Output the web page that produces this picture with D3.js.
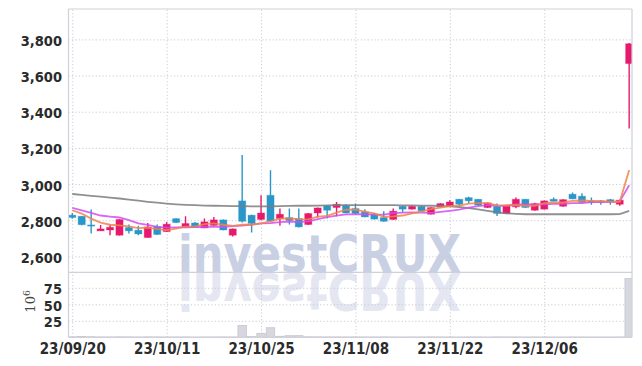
<!DOCTYPE html>
<html>
<head>
<meta charset="utf-8">
<script src="https://cdn.jsdelivr.net/npm/d3@7"></script>
<style>
    body { margin: 0; background: #ffffff; }
    #chart { width: 642px; height: 366px; }
    .tick text { font-family: "Liberation Sans Narrow", "DejaVu Sans Condensed", sans-serif; font-weight: bold; fill: #2b2b2b; }
    .grid line { stroke: #c9cad8; stroke-dasharray: 1.2 2.2; }
    .grid path { display: none; }
</style>
</head>
<body>
<div id="chart"></div>
<script>
// Trading days (YY/MM/DD)
const dates = [
    "23/09/20", "23/09/21", "23/09/22", "23/09/25", "23/09/26", "23/09/27",
    "23/10/04", "23/10/05", "23/10/06", "23/10/10", "23/10/11", "23/10/12",
    "23/10/13", "23/10/16", "23/10/17", "23/10/18", "23/10/19", "23/10/20",
    "23/10/23", "23/10/24", "23/10/25", "23/10/26", "23/10/27", "23/10/30",
    "23/10/31", "23/11/01", "23/11/02", "23/11/03", "23/11/06", "23/11/07",
    "23/11/08", "23/11/09", "23/11/10", "23/11/13", "23/11/14", "23/11/15",
    "23/11/16", "23/11/17", "23/11/20", "23/11/21", "23/11/22", "23/11/23",
    "23/11/24", "23/11/27", "23/11/28", "23/11/29", "23/11/30", "23/12/01",
    "23/12/04", "23/12/05", "23/12/06", "23/12/07", "23/12/08", "23/12/11",
    "23/12/12", "23/12/13", "23/12/14", "23/12/15", "23/12/18", "23/12/19"
];

// Daily prices
const opens = [
    2828, 2822, 2774, 2741, 2746, 2717, 2760, 2745, 2704, 2765,
    2737, 2809, 2760, 2785, 2757, 2771, 2802, 2717, 2907, 2828,
    2804, 2938, 2809, 2815, 2809, 2776, 2840, 2879, 2870, 2881,
    2865, 2846, 2833, 2815, 2804, 2877, 2861, 2877, 2833, 2874,
    2879, 2916, 2925, 2916, 2870, 2877, 2837, 2874, 2916, 2855,
    2861, 2916, 2877, 2944, 2933, 2907, 2907, 2914, 2888, 3666
];
const highs = [
    2840, 2824, 2859, 2774, 2776, 2806, 2776, 2770, 2785, 2776,
    2790, 2811, 2822, 2790, 2809, 2818, 2804, 2754, 3160, 2830,
    2938, 3076, 2865, 2865, 2865, 2840, 2870, 2881, 2901, 2888,
    2892, 2860, 2839, 2850, 2865, 2879, 2879, 2879, 2872, 2894,
    2910, 2918, 2930, 2918, 2898, 2893, 2885, 2925, 2918, 2897,
    2909, 2925, 2916, 2953, 2949, 2925, 2912, 2918, 2913, 3780
];
const lows = [
    2808, 2772, 2726, 2740, 2717, 2715, 2726, 2717, 2703, 2718,
    2735, 2785, 2758, 2758, 2755, 2769, 2744, 2710, 2787, 2732,
    2800, 2790, 2769, 2776, 2760, 2774, 2815, 2809, 2822, 2838,
    2835, 2816, 2804, 2792, 2802, 2845, 2859, 2850, 2831, 2872,
    2877, 2880, 2895, 2881, 2868, 2824, 2835, 2866, 2868, 2853,
    2859, 2903, 2875, 2916, 2897, 2885, 2885, 2885, 2880, 3307
];
const closes = [
    2815, 2775, 2770, 2752, 2761, 2804, 2741, 2724, 2763, 2721,
    2778, 2787, 2782, 2760, 2791, 2802, 2746, 2752, 2794, 2782,
    2840, 2796, 2833, 2798, 2763, 2837, 2868, 2855, 2888, 2840,
    2837, 2818, 2806, 2794, 2850, 2861, 2877, 2852, 2870, 2892,
    2901, 2888, 2907, 2883, 2896, 2837, 2883, 2916, 2870, 2892,
    2907, 2905, 2914, 2918, 2899, 2898, 2899, 2901, 2911, 3776
];

// Volume (10^6 shares)
const volumes = [
    0.8, 1.2, 0.9, 0.6, 0.5, 0.7, 0.6, 0.5, 0.7, 0.6,
    0.5, 0.5, 0.6, 0.4, 0.5, 0.5, 0.6, 0.5, 18, 1.0,
    6, 14.5, 1.5, 2.5, 2.5, 0.8, 0.7, 0.6, 0.6, 0.5,
    0.6, 0.5, 0.5, 0.6, 0.5, 0.4, 0.5, 0.5, 0.6, 0.5,
    0.5, 0.4, 0.5, 0.5, 0.4, 0.6, 0.5, 0.5, 0.4, 0.5,
    0.5, 0.4, 0.4, 0.5, 0.5, 0.4, 0.4, 0.4, 0.5, 89
];

// Moving averages
const ma5 = [
    2855, 2837, 2809, 2787, 2775, 2772, 2766, 2756, 2759, 2751,
    2745, 2754, 2765, 2765, 2778, 2782, 2775, 2769, 2776, 2775,
    2783, 2793, 2809, 2810, 2806, 2805, 2820, 2824, 2842, 2858,
    2858, 2848, 2838, 2819, 2821, 2826, 2838, 2847, 2862, 2870,
    2878, 2881, 2892, 2894, 2895, 2882, 2881, 2883, 2880, 2880,
    2894, 2898, 2898, 2907, 2909, 2907, 2906, 2903, 2902, 3077
];
const ma10 = [
    2868, 2855, 2840, 2826, 2820, 2815, 2800, 2782, 2774, 2763,
    2759, 2760, 2761, 2762, 2764, 2764, 2764, 2767, 2770, 2776,
    2783, 2784, 2789, 2793, 2790, 2794, 2806, 2817, 2826, 2832,
    2832, 2834, 2831, 2831, 2839, 2842, 2843, 2842, 2841, 2846,
    2852, 2859, 2869, 2878, 2883, 2880, 2881, 2887, 2887, 2887,
    2888, 2890, 2890, 2894, 2894, 2900, 2902, 2900, 2904, 2993
];
const ma60 = [
    2945, 2940, 2935, 2930, 2925, 2920, 2914, 2908, 2902, 2897,
    2892, 2888, 2885, 2883, 2881, 2880, 2879, 2878, 2878, 2877,
    2877, 2877, 2878, 2879, 2880, 2880, 2881, 2882, 2883, 2884,
    2884, 2884, 2884, 2883, 2883, 2882, 2882, 2881, 2880, 2879,
    2877, 2873, 2867, 2860, 2852, 2844, 2838, 2835, 2833, 2833,
    2833, 2833, 2833, 2833, 2833, 2833, 2833, 2833, 2834, 2852
];

// Tick labels
const priceTicks = [2600, 2800, 3000, 3200, 3400, 3600, 3800];
const volumeTicks = [25, 50, 75];
const dateTicks = ["23/09/20", "23/10/11", "23/10/25", "23/11/08", "23/11/22", "23/12/06"];


// Candlestick chart with volume panel
class CandleVis {

    constructor(parentElement) {
        this.parentElement = parentElement;
        this.data = dates.map((d, i) => ({
            index: i, date: d,
            open: opens[i], high: highs[i], low: lows[i], close: closes[i],
            volume: volumes[i]
        }));
        this.initVis();
    }

    initVis() {
        let vis = this;

        // Panel edges
        vis.left = 68.5;
        vis.right = 632;
        vis.top = 9;
        vis.split = 272.3;
        vis.bottom = 337.3;

        vis.svg = d3.select("#" + vis.parentElement).append("svg")
            .attr("width", 642)
            .attr("height", 366);

        // Scales
        vis.x = d3.scaleLinear()
            .domain([-0.4, dates.length - 0.7])
            .range([vis.left, vis.right]);
        vis.step = vis.x(1) - vis.x(0);

        vis.yPrice = d3.scaleLinear()
            .domain([2512, 3968])
            .range([vis.split, vis.top]);

        vis.yVol = d3.scaleLinear()
            .domain([0, 98.5])
            .range([vis.bottom, vis.split]);

        vis.defs = vis.svg.append("defs");
        vis.defs.append("clipPath").attr("id", "clip-price")
            .append("rect")
            .attr("x", vis.left).attr("y", vis.top)
            .attr("width", vis.right - vis.left).attr("height", vis.split - vis.top);
        vis.defs.append("clipPath").attr("id", "clip-vol")
            .append("rect")
            .attr("x", vis.left).attr("y", vis.split)
            .attr("width", vis.right - vis.left).attr("height", vis.bottom - vis.split);

        this.drawWatermark();
        this.drawGrid();
        this.updateVis();
        this.drawFrame();
    }

    drawWatermark() {
        let vis = this;

        let mark = vis.svg.append("g").attr("class", "watermark");

        let addMark = (g, color) => g.append("text")
            .attr("x", 178)
            .attr("y", 271.5)
            .attr("textLength", 283)
            .attr("lengthAdjust", "spacingAndGlyphs")
            .style("font-family", "DejaVu Sans, sans-serif")
            .style("font-weight", "bold")
            .style("font-size", "51px")
            .style("fill", color)
            .text("investCRUX");

        addMark(mark, "#c9d0e4");

        // mirrored reflection in the volume panel
        let mirror = mark.append("g")
            .attr("clip-path", "url(#clip-vol)")
            .append("g")
            .attr("transform", `translate(0, ${2 * vis.split}) scale(1, -1)`);
        addMark(mirror, "#e4e7f1");
    }

    drawGrid() {
        let vis = this;
        let tickIndex = dateTicks.map(d => dates.indexOf(d));

        // Horizontal grid, price panel
        vis.svg.append("g")
            .attr("class", "grid")
            .attr("transform", `translate(${vis.left},0)`)
            .call(d3.axisLeft(vis.yPrice).tickValues(priceTicks).tickSize(-(vis.right - vis.left)).tickFormat(""));

        // Horizontal grid, volume panel
        vis.svg.append("g")
            .attr("class", "grid")
            .attr("transform", `translate(${vis.left},0)`)
            .call(d3.axisLeft(vis.yVol).tickValues(volumeTicks).tickSize(-(vis.right - vis.left)).tickFormat(""));

        // Vertical grid across both panels
        vis.svg.append("g")
            .attr("class", "grid")
            .attr("transform", `translate(0,${vis.bottom})`)
            .call(d3.axisBottom(vis.x).tickValues(tickIndex).tickSize(-(vis.bottom - vis.top)).tickFormat(""));

        // Axis labels
        let yAxis = vis.svg.append("g")
            .attr("class", "y-axis")
            .attr("transform", `translate(${vis.left},0)`)
            .call(d3.axisLeft(vis.yPrice).tickValues(priceTicks).tickFormat(d3.format(",")).tickSize(0).tickPadding(6.5));
        yAxis.select(".domain").remove();
        yAxis.selectAll("text").style("font-size", "14.5px").attr("dy", "0.42em");

        let vAxis = vis.svg.append("g")
            .attr("class", "v-axis")
            .attr("transform", `translate(${vis.left},0)`)
            .call(d3.axisLeft(vis.yVol).tickValues(volumeTicks).tickSize(0).tickPadding(6.5));
        vAxis.select(".domain").remove();
        vAxis.selectAll("text").style("font-size", "14.5px").attr("dy", "0.42em");

        let xAxis = vis.svg.append("g")
            .attr("class", "x-axis")
            .attr("transform", `translate(0,${vis.bottom})`)
            .call(d3.axisBottom(vis.x).tickValues(tickIndex).tickFormat(i => dates[i]).tickSize(0).tickPadding(6));
        xAxis.select(".domain").remove();
        xAxis.selectAll("text").style("font-size", "15px");

        // Volume unit label
        let unit = vis.svg.append("text")
            .attr("transform", "translate(35,301.5) rotate(-90)")
            .attr("text-anchor", "middle")
            .style("font-family", "DejaVu Serif, serif")
            .style("font-size", "13px")
            .style("fill", "#444");
        unit.append("tspan").text("10");
        unit.append("tspan").attr("dy", "-5").style("font-size", "9px").text("6");
    }

    updateVis() {
        let vis = this;
        let up = "#e6196c", down = "#2a96c9";

        // Volume bars
        vis.svg.append("g")
            .attr("clip-path", "url(#clip-vol)")
            .selectAll(".vol-bar")
            .data(vis.data)
            .enter()
            .append("rect")
            .attr("class", "vol-bar")
            .attr("x", d => vis.x(d.index) - vis.step / 2 + 0.5)
            .attr("y", d => vis.yVol(d.volume))
            .attr("width", vis.step - 1)
            .attr("height", d => vis.bottom - vis.yVol(d.volume))
            .attr("fill", "#d7d7df")
            .attr("stroke", "#c6c6ce")
            .attr("stroke-width", 0.8);

        let price = vis.svg.append("g").attr("clip-path", "url(#clip-price)");

        // Wicks
        price.selectAll(".wick")
            .data(vis.data)
            .enter()
            .append("line")
            .attr("class", "wick")
            .attr("x1", d => vis.x(d.index))
            .attr("x2", d => vis.x(d.index))
            .attr("y1", d => vis.yPrice(d.high))
            .attr("y2", d => vis.yPrice(d.low))
            .attr("stroke", d => d.close >= d.open ? up : down)
            .attr("stroke-width", 1.4);

        // Bodies
        price.selectAll(".body")
            .data(vis.data)
            .enter()
            .append("rect")
            .attr("class", "body")
            .attr("x", d => vis.x(d.index) - 3.6)
            .attr("y", d => vis.yPrice(Math.max(d.open, d.close)))
            .attr("width", 7.2)
            .attr("height", d => Math.max(1.2, Math.abs(vis.yPrice(d.open) - vis.yPrice(d.close))))
            .attr("fill", d => d.close >= d.open ? up : down)
            .attr("stroke", d => d.close >= d.open ? up : down)
            .attr("stroke-opacity", 0.25)
            .attr("stroke-width", 1.2);

        // Moving average lines
        let lines = [
            { values: ma60, color: "#7d7d7d" },
            { values: ma10, color: "#d24cf0" },
            { values: ma5, color: "#f0844a" }
        ];
        let lineGen = d3.line()
            .x((d, i) => vis.x(i))
            .y(d => vis.yPrice(d));

        price.selectAll(".ma-line")
            .data(lines)
            .enter()
            .append("path")
            .attr("class", "ma-line")
            .attr("d", d => lineGen(d.values))
            .attr("fill", "none")
            .attr("stroke", d => d.color)
            .attr("stroke-width", 1.8)
            .attr("stroke-opacity", 0.85);
    }

    drawFrame() {
        let vis = this;
        let frame = vis.svg.append("g").attr("class", "frame")
            .attr("stroke", "#cfd0da").attr("stroke-width", 1.2).attr("fill", "none");

        frame.append("line").attr("x1", vis.left).attr("x2", vis.right).attr("y1", vis.top).attr("y2", vis.top);
        frame.append("line").attr("x1", vis.left).attr("x2", vis.right).attr("y1", vis.split).attr("y2", vis.split);
        frame.append("line").attr("x1", vis.left).attr("x2", vis.right).attr("y1", vis.bottom).attr("y2", vis.bottom);
        frame.append("line").attr("x1", vis.left).attr("x2", vis.left).attr("y1", vis.top).attr("y2", vis.bottom);
        frame.append("line").attr("x1", vis.right).attr("x2", vis.right).attr("y1", vis.top).attr("y2", vis.bottom);
    }
}

new CandleVis("chart");
</script>
</body>
</html>
